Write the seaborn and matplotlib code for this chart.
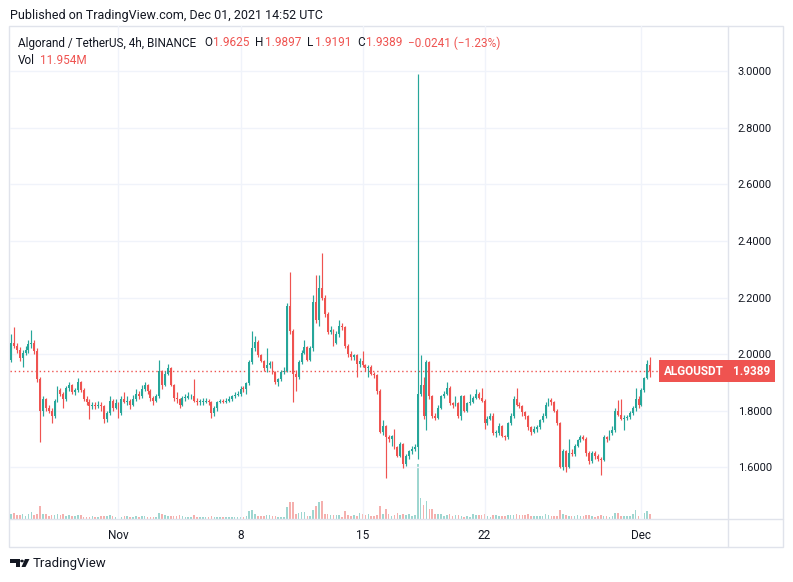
import numpy as np
import pandas as pd
import matplotlib
matplotlib.use("Agg")
import matplotlib.pyplot as plt
import seaborn as sns
from matplotlib.patches import Rectangle, Polygon, Circle
from matplotlib.lines import Line2D

sns.set_theme(style="white")
plt.rcParams["font.family"] = ["Roboto", "DejaVu Sans"]

# ---------------- data (4h candles, ALGO/USDT Binance) ----------------
start_time = "2021-10-25 20:00"
first_open = 1.98
close = [
    2.040, 2.030, 2.015, 1.985, 2.005, 2.015, 2.035, 2.040, 2.010, 1.910,
    1.800, 1.840, 1.810, 1.800, 1.780, 1.835, 1.873, 1.860, 1.840, 1.880,
    1.890, 1.865, 1.873, 1.900, 1.873, 1.840, 1.830, 1.815, 1.820, 1.815,
    1.820, 1.815, 1.770, 1.790, 1.835, 1.810, 1.825, 1.790, 1.840, 1.830,
    1.835, 1.820, 1.840, 1.860, 1.850, 1.875, 1.890, 1.870, 1.845, 1.835,
    1.850, 1.940, 1.890, 1.930, 1.950, 1.890, 1.845, 1.840, 1.820, 1.845,
    1.845, 1.850, 1.850, 1.835, 1.830, 1.830, 1.830, 1.835, 1.830, 1.790,
    1.810, 1.830, 1.835, 1.830, 1.835, 1.840, 1.850, 1.855, 1.860, 1.876,
    1.875, 1.896, 1.973, 2.020, 2.044, 1.995, 1.975, 1.950, 1.960, 1.968,
    1.937, 1.900, 1.910, 1.937, 1.940, 2.170, 2.080, 1.930, 1.920, 1.973,
    2.005, 2.025, 1.980, 2.020, 2.185, 2.120, 2.233, 2.200, 2.140, 2.079,
    2.085, 2.040, 2.070, 2.100, 2.095, 2.030, 2.000, 1.990, 1.995, 1.965,
    1.975, 1.960, 1.950, 1.955, 1.930, 1.925, 1.870, 1.725, 1.745, 1.707,
    1.700, 1.710, 1.670, 1.640, 1.680, 1.610, 1.640, 1.655, 1.665, 1.670,
    1.860, 1.890, 1.780, 1.973, 1.850, 1.780, 1.775, 1.810, 1.850, 1.860,
    1.880, 1.825, 1.820, 1.825, 1.780, 1.850, 1.800, 1.825, 1.830, 1.845,
    1.860, 1.845, 1.835, 1.755, 1.770, 1.780, 1.720, 1.720, 1.745, 1.710,
    1.705, 1.755, 1.780, 1.840, 1.820, 1.815, 1.795, 1.780, 1.740, 1.725,
    1.735, 1.740, 1.765, 1.780, 1.820, 1.837, 1.830, 1.800, 1.755, 1.600,
    1.655, 1.600, 1.650, 1.645, 1.675, 1.696, 1.707, 1.700, 1.648, 1.620,
    1.648, 1.640, 1.630, 1.625, 1.707, 1.700, 1.720, 1.730, 1.800, 1.785,
    1.770, 1.775, 1.778, 1.790, 1.810, 1.840, 1.820, 1.873, 1.915, 1.9630,
    1.9389,
]
high = [
    2.070, 2.095, 2.040, 2.025, 2.015, 2.030, 2.050, 2.085, 2.050, 2.020,
    1.920, 1.850, 1.845, 1.820, 1.810, 1.840, 1.885, 1.880, 1.865, 1.885,
    1.900, 1.895, 1.880, 1.915, 1.905, 1.880, 1.850, 1.840, 1.830, 1.830,
    1.835, 1.830, 1.820, 1.800, 1.850, 1.840, 1.840, 1.830, 1.850, 1.866,
    1.850, 1.840, 1.855, 1.875, 1.870, 1.890, 1.900, 1.895, 1.875, 1.850,
    1.860, 1.980, 1.945, 1.940, 1.966, 1.955, 1.895, 1.865, 1.845, 1.850,
    1.860, 1.865, 1.860, 1.910, 1.845, 1.840, 1.845, 1.845, 1.840, 1.835,
    1.815, 1.835, 1.840, 1.840, 1.845, 1.850, 1.855, 1.865, 1.870, 1.885,
    1.885, 1.900, 1.980, 2.080, 2.065, 2.050, 2.000, 1.980, 2.020, 1.975,
    1.975, 1.940, 1.915, 1.945, 1.955, 2.180, 2.290, 2.090, 1.945, 1.980,
    2.015, 2.050, 2.030, 2.030, 2.210, 2.280, 2.280, 2.356, 2.210, 2.150,
    2.100, 2.090, 2.080, 2.120, 2.110, 2.100, 2.035, 2.010, 2.000, 2.000,
    1.985, 2.010, 1.965, 1.960, 1.960, 1.935, 1.930, 1.875, 1.765, 1.750,
    1.715, 1.715, 1.735, 1.675, 1.690, 1.685, 1.645, 1.660, 1.675, 1.680,
    2.990, 1.996, 1.920, 1.980, 1.975, 1.855, 1.790, 1.820, 1.855, 1.870,
    1.900, 1.885, 1.830, 1.850, 1.830, 1.855, 1.855, 1.830, 1.860, 1.850,
    1.875, 1.865, 1.880, 1.840, 1.780, 1.790, 1.790, 1.730, 1.755, 1.750,
    1.715, 1.760, 1.790, 1.850, 1.880, 1.830, 1.820, 1.800, 1.785, 1.745,
    1.745, 1.750, 1.770, 1.790, 1.830, 1.845, 1.845, 1.835, 1.805, 1.760,
    1.665, 1.660, 1.700, 1.665, 1.680, 1.700, 1.715, 1.715, 1.705, 1.655,
    1.655, 1.655, 1.645, 1.635, 1.715, 1.710, 1.730, 1.745, 1.810, 1.837,
    1.840, 1.785, 1.785, 1.800, 1.815, 1.880, 1.850, 1.880, 1.920, 1.980,
    1.9897,
]
low = [
    1.970, 2.020, 2.005, 1.975, 1.955, 1.995, 2.005, 2.020, 2.000, 1.900,
    1.690, 1.780, 1.800, 1.790, 1.755, 1.775, 1.830, 1.850, 1.810, 1.835,
    1.870, 1.860, 1.855, 1.865, 1.865, 1.835, 1.820, 1.770, 1.805, 1.805,
    1.810, 1.800, 1.755, 1.760, 1.785, 1.800, 1.805, 1.775, 1.785, 1.825,
    1.820, 1.805, 1.815, 1.835, 1.840, 1.845, 1.870, 1.860, 1.835, 1.820,
    1.830, 1.845, 1.875, 1.885, 1.925, 1.885, 1.835, 1.825, 1.810, 1.815,
    1.835, 1.840, 1.840, 1.830, 1.820, 1.820, 1.820, 1.825, 1.820, 1.775,
    1.780, 1.800, 1.825, 1.825, 1.825, 1.830, 1.835, 1.845, 1.850, 1.850,
    1.865, 1.860, 1.890, 1.965, 2.010, 1.990, 1.970, 1.940, 1.935, 1.950,
    1.930, 1.895, 1.885, 1.905, 1.930, 1.935, 2.070, 1.830, 1.870, 1.910,
    1.965, 2.000, 1.975, 1.975, 2.010, 2.110, 2.100, 2.190, 2.130, 2.070,
    2.070, 2.030, 2.035, 2.060, 2.085, 2.020, 1.990, 1.980, 1.980, 1.920,
    1.955, 1.955, 1.940, 1.920, 1.925, 1.915, 1.860, 1.720, 1.715, 1.560,
    1.690, 1.675, 1.665, 1.635, 1.635, 1.596, 1.605, 1.630, 1.645, 1.655,
    1.630, 1.850, 1.770, 1.730, 1.840, 1.775, 1.765, 1.770, 1.805, 1.845,
    1.855, 1.820, 1.810, 1.815, 1.775, 1.765, 1.795, 1.795, 1.820, 1.825,
    1.840, 1.840, 1.830, 1.735, 1.750, 1.765, 1.715, 1.705, 1.715, 1.705,
    1.695, 1.700, 1.750, 1.775, 1.815, 1.810, 1.780, 1.770, 1.730, 1.715,
    1.720, 1.725, 1.735, 1.760, 1.775, 1.815, 1.820, 1.795, 1.750, 1.595,
    1.590, 1.583, 1.595, 1.640, 1.640, 1.670, 1.690, 1.695, 1.640, 1.610,
    1.615, 1.630, 1.620, 1.572, 1.620, 1.690, 1.695, 1.715, 1.725, 1.780,
    1.765, 1.730, 1.765, 1.770, 1.785, 1.800, 1.810, 1.815, 1.865, 1.910,
    1.9191,
]
volume_m = [
    12, 13.5, 9.8, 9.8, 11.2, 7.5, 12, 15, 9.8, 12,
    30, 12, 11.2, 7.5, 9.8, 9.8, 12, 9.8, 12, 7.5,
    9.8, 7.5, 7.5, 9.8, 9.8, 4.5, 4.5, 4.5, 6, 4.5,
    4.5, 7.5, 7.5, 7.5, 9.8, 6, 4.5, 7.5, 4.5, 7.5,
    6, 4.5, 4.5, 7.5, 4.5, 7.5, 7.5, 4.5, 4.5, 4.5,
    4.5, 13.5, 11.2, 9.8, 7.5, 7.5, 6, 7.5, 9.8, 7.5,
    4.5, 4.5, 4.5, 9.8, 4.5, 4.5, 4.5, 4.5, 4.5, 6,
    4.5, 4.5, 4.5, 4.5, 4.5, 4.5, 4.5, 4.5, 4.5, 4.5,
    4.5, 7.5, 17, 21, 11.2, 7.5, 7.5, 7.5, 9.8, 9.8,
    7.5, 7.5, 4.5, 4.5, 4.5, 28, 37.5, 37.5, 12, 13.5,
    15, 15, 7.5, 7.5, 21, 30, 37.5, 40, 12, 12,
    9.8, 9.8, 9.8, 9.8, 4.5, 17, 9.8, 7.5, 9.8, 6,
    13.5, 12, 9.8, 12, 7.5, 7.5, 9.8, 30, 12, 23,
    12, 7.5, 9.8, 13.5, 9.8, 12, 9.8, 12, 7.5, 9.8,
    124, 46, 32, 40, 23, 22.5, 12, 12, 12, 7.5,
    9.8, 12, 7.5, 9.8, 9.8, 7.5, 4.5, 7.5, 4.5, 12,
    9.8, 9.8, 9.8, 12, 7.5, 4.5, 9.8, 9.8, 7.5, 7.5,
    7.5, 9.8, 9.8, 9.8, 12, 9.8, 9.8, 9.8, 12, 7.5,
    7.5, 7.5, 7.5, 7.5, 12, 9.8, 7.5, 7.5, 7.5, 21,
    12, 9.8, 7.5, 7.5, 7.5, 9.8, 7.5, 7.5, 9.8, 9.8,
    7.5, 4.5, 7.5, 9.8, 7.5, 7.5, 4.5, 7.5, 13.5, 13.5,
    7.5, 7.5, 7.5, 7.5, 12, 21, 7.5, 12, 13.5, 17,
    11.954,
]
# legend values shown in the header of the reference
legend_ohlc = [1.9625, 1.9897, 1.9191, 1.9389]
legend_change = -0.0241
legend_change_pct = -1.23
legend_volume = "11.954M"

x_tick_dates = ["2021-11-01", "2021-11-08", "2021-11-15", "2021-11-22", "2021-12-01"]
x_tick_labels = ["Nov", "8", "15", "22", "Dec"]
price_ticks = [1.6, 1.8, 2.0, 2.2, 2.4, 2.6, 2.8, 3.0]
symbol = "ALGOUSDT"

# ---------------- frame ----------------
opens = [first_open] + close[:-1]
opens[-1] = legend_ohlc[0]
times = pd.date_range(start_time, periods=len(close), freq="4h")
df = pd.DataFrame({"time": times, "open": opens, "high": high, "low": low,
                   "close": close, "volume": volume_m})
df["idx"] = np.arange(len(df))
df["dir"] = np.where(df["close"] >= df["open"], "up", "down")

GREEN, RED = "#26a69a", "#ef5350"
VGREEN, VRED = "#9ed6d0", "#f5b0ae"
DARK = "#131722"
GRID = "#f0f3fa"
BORDER = "#e0e3eb"

W, H = 793, 582
fig = plt.figure(figsize=(W / 100, H / 100), dpi=100)
fig.patch.set_facecolor("white")


def fx(px):
    return px / W


def fy(py):
    return 1 - py / H


rect = [fx(10), fy(519), (728 - 10) / W, (519 - 26) / H]
xlim = (-0.344, 246.8)

axv = fig.add_axes(rect, label="volume")
ax = fig.add_axes(rect, label="price")
axv.set_zorder(1)
ax.set_zorder(2)
ax.patch.set_alpha(0)

# volume (seaborn)
sns.barplot(data=df, x="idx", y="volume", hue="dir", palette={"up": VGREEN, "down": VRED},
            native_scale=True, dodge=False, width=0.55, legend=False, errorbar=None,
            saturation=1, linewidth=0, orient="x", ax=axv)
axv.set_xlim(*xlim)
axv.set_ylim(0, 1105)
axv.set_axis_off()

# candles
cols = np.where(df["dir"] == "up", GREEN, RED)
ax.vlines(df["idx"], df["low"], df["high"], colors=cols, linewidth=0.85, zorder=3)
body_bottom = np.minimum(df["open"], df["close"])
body_h = np.maximum(np.abs(df["close"] - df["open"]), 0.003)
ax.bar(df["idx"], body_h, bottom=body_bottom, width=0.66, color=cols, linewidth=0, zorder=4)

ax.set_xlim(*xlim)
ax.set_ylim(1.416, 3.161)
tick_pos = [int(np.searchsorted(times, pd.Timestamp(d))) for d in x_tick_dates]
ax.set_xticks(tick_pos)
ax.set_xticklabels(x_tick_labels)
ax.set_yticks(price_ticks)
ax.set_yticklabels([f"{p:.4f}" for p in price_ticks])
ax.yaxis.tick_right()
ax.tick_params(axis="y", length=0, pad=7, labelsize=8, labelcolor=DARK)
ax.tick_params(axis="x", length=0, pad=7, labelsize=8.5, labelcolor=DARK)
ax.grid(True, color=GRID, linewidth=1, zorder=0)
ax.set_axisbelow(True)
for s in ax.spines.values():
    s.set_visible(False)
ax.set_xlabel("")
ax.set_ylabel("")

last = df["close"].iloc[-1]
ax.axhline(last, color=RED, linestyle=(0, (1, 2)), linewidth=1, zorder=2)
ax.annotate(symbol, xy=(1, last), xycoords=("axes fraction", "data"), xytext=(-3, 0),
            textcoords="offset points", ha="right", va="center", color="white",
            fontsize=8.5, fontweight="bold", zorder=6, annotation_clip=False,
            bbox=dict(boxstyle="square,pad=0.38", fc=RED, ec="none"))
ax.annotate(f"{last:.4f}", xy=(1, last), xycoords=("axes fraction", "data"), xytext=(3.5, 0),
            textcoords="offset points", ha="left", va="center", color="white",
            fontsize=8.5, fontweight="bold", zorder=6, annotation_clip=False,
            bbox=dict(boxstyle="square,pad=0.38", fc=RED, ec="none"))

# frame lines
fig.add_artist(Rectangle((fx(9), fy(547)), (783 - 9) / W, (547 - 26) / H, fill=False,
                         ec=BORDER, lw=1, transform=fig.transFigure))
fig.add_artist(Line2D([fx(728), fx(728)], [fy(26), fy(547)], color=BORDER, lw=1,
                      transform=fig.transFigure))
fig.add_artist(Line2D([fx(9), fx(783)], [fy(519), fy(519)], color=BORDER, lw=1,
                      transform=fig.transFigure))

# header texts
fig.text(fx(10), fy(15), "Published on TradingView.com, Dec 01, 2021 14:52 UTC",
         fontsize=9, color=DARK, va="center")

renderer = fig.canvas.get_renderer()


def seq_text(x_px, y_px, parts, size=8.5):
    """place text parts one after another: (text, colour, gap_after_px)"""
    x = x_px
    for txt, col, gap in parts:
        t = fig.text(fx(x), fy(y_px), txt, fontsize=size, color=col, va="center")
        bb = t.get_window_extent(renderer)
        x = bb.x1 + gap


o, h, l, c = legend_ohlc
chg_txt = f"\u2212{abs(legend_change):.4f} (\u2212{abs(legend_change_pct):.2f}%)"
seq_text(18, 43, [
    ("Algorand / TetherUS, 4h, BINANCE", DARK, 8),
    ("O", DARK, 1), (f"{o:.4f}", RED, 6),
    ("H", DARK, 1), (f"{h:.4f}", RED, 6),
    ("L", DARK, 1), (f"{l:.4f}", RED, 6),
    ("C", DARK, 1), (f"{c:.4f}", RED, 6),
    (chg_txt, RED, 0),
])
seq_text(18, 60, [("Vol", DARK, 5), (legend_volume, RED, 0)])

# TradingView logo
fig.add_artist(Polygon([(fx(10), fy(559)), (fx(20), fy(559)), (fx(20), fy(567)), (fx(16), fy(567)),
                        (fx(16), fy(562.5)), (fx(10), fy(562.5))], closed=True,
                       fc=DARK, ec="none", transform=fig.transFigure))
fig.add_artist(Circle((fx(22), fy(561)), 1.8 / W, fc=DARK, ec="none", transform=fig.transFigure))
fig.add_artist(Polygon([(fx(25), fy(559)), (fx(29.5), fy(559)), (fx(25.5), fy(567)), (fx(21.5), fy(567))],
                       closed=True, fc=DARK, ec="none", transform=fig.transFigure))
fig.text(fx(33), fy(564), "TradingView", fontsize=9.5, color=DARK, va="center")

fig.savefig("out.png", dpi=100, facecolor="white")
